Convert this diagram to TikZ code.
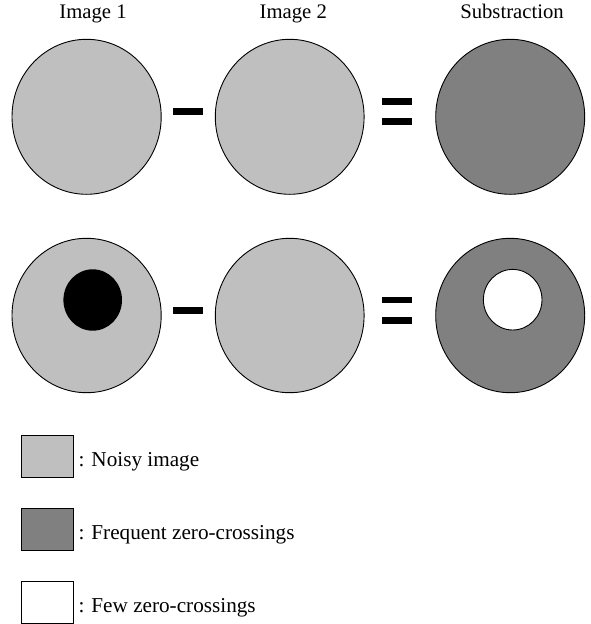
\documentclass[tikz,border=0pt]{standalone}
\usepackage{fontspec}
\setmainfont{Liberation Serif}
\definecolor{noisy}{gray}{0.75}
\definecolor{freq}{gray}{0.5}
\begin{document}
\begin{tikzpicture}[x=1pt,y=-1pt,
  disc/.style={draw=black,line width=0.9pt},
  bar/.style={fill=black},
  lbl/.style={font=\fontsize{20.7}{24}\selectfont,inner sep=0pt,anchor=base},
  legtxt/.style={font=\fontsize{21.2}{25}\selectfont,inner sep=0pt,anchor=base west},
  legbox/.style={draw=black,line width=0.7pt}]
\useasboundingbox (0,0) rectangle (591,624);
% titles
\node[lbl] (t1) at (93,18.3) {Image 1};
\node[lbl] (t2) at (293.3,18.3) {Image 2};
\node[lbl] (t3) at (512,18.3) {Substraction};
% row 1
\draw[disc,fill=noisy] (86.6,116.8) ellipse [x radius=74.6,y radius=77.5];
\draw[disc,fill=noisy] (289.7,116.8) ellipse [x radius=74.4,y radius=77.5];
\draw[disc,fill=freq] (510.2,116.8) ellipse [x radius=74.5,y radius=77.5];
\fill[bar] (173.3,107.8) rectangle (202.7,115);
\fill[bar] (382.3,98.3) rectangle (411.7,105.3);
\fill[bar] (382.3,117.6) rectangle (411.7,124.8);
% row 2
\draw[disc,fill=noisy] (86.6,315.5) ellipse [x radius=74.6,y radius=77.2];
\fill[black] (92.7,300) ellipse [x radius=29.3,y radius=30.7];
\draw[disc,fill=noisy] (289.7,315.5) ellipse [x radius=74.4,y radius=77.2];
\draw[disc,fill=freq] (510.2,315.5) ellipse [x radius=74.5,y radius=77.2];
\draw[disc,fill=white] (512.7,299.7) ellipse [x radius=29.3,y radius=30.3];
\fill[bar] (173.3,307.2) rectangle (202.7,313.6);
\fill[bar] (382.3,296.6) rectangle (411.7,303.4);
\fill[bar] (382.3,316.8) rectangle (411.7,324);
% legend
\draw[legbox,fill=noisy] (21.5,435.2) rectangle (73.3,477.6);
\node[legtxt] (l1) at (78.3,466.7) {: Noisy image};
\draw[legbox,fill=freq] (21.5,508.5) rectangle (73.3,550.7);
\node[legtxt] (l2) at (78.3,539) {: Frequent zero-crossings};
\draw[legbox,fill=white] (21.5,581.8) rectangle (73.3,623.6);
\node[legtxt] (l3) at (78.3,612.7) {: Few zero-crossings};
\end{tikzpicture}
\end{document}
